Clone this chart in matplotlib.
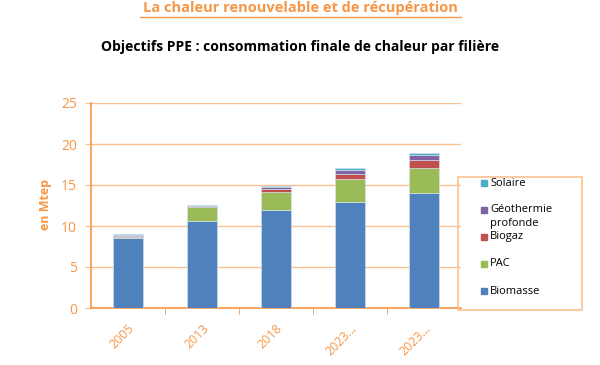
import matplotlib
matplotlib.use("Agg")
import matplotlib.pyplot as plt
from matplotlib.patches import Rectangle
import numpy as np

categories = ["2005", "2013", "2018", "2023…", "2023…"]
biomasse = [8.5, 10.6, 11.9, 12.9, 14.0]
pac = [0.2, 1.7, 2.3, 2.8, 3.1]
biogaz = [0.1, 0.1, 0.3, 0.7, 0.9]
geothermie = [0.1, 0.05, 0.2, 0.4, 0.6]
solaire = [0.1, 0.15, 0.2, 0.3, 0.35]

series = [("Biomasse", biomasse, "#4F81BD"),
          ("PAC", pac, "#9BBB59"),
          ("Biogaz", biogaz, "#C0504D"),
          ("Géothermie\nprofonde", geothermie, "#8064A2"),
          ("Solaire", solaire, "#4BACC6")]

orange = "#F79646"
light_orange = "#FAC090"

fig = plt.figure(figsize=(6.0, 3.65), dpi=100)
W, H = 600, 365
ax = fig.add_axes([91 / W, (H - 308) / H, 370 / W, 205 / H])

x = np.arange(len(categories))
bottom = np.zeros(len(categories))
for name, vals, col in series:
    ax.bar(x, vals, width=0.4, bottom=bottom, color=col,
           edgecolor="#DCE6F2", linewidth=0.4, zorder=3)
    bottom += np.array(vals)

ax.set_xlim(-0.5, len(categories) - 0.5)
ax.set_ylim(0, 25)
ax.set_yticks([0, 5, 10, 15, 20, 25])
ax.yaxis.grid(True, color=light_orange, linewidth=1.0, zorder=0)
ax.set_xticks(x)
ax.set_xticklabels(categories, rotation=45, ha="right", rotation_mode="anchor",
                   color=orange, fontsize=9, family="Open Sans")
ax.set_xticks(np.arange(0.5, len(categories) - 0.5, 1), minor=True)
ax.tick_params(axis="x", which="major", length=0, pad=10)
ax.tick_params(axis="x", which="minor", length=4, color=orange, direction="out")
ax.tick_params(axis="y", length=4, color=light_orange, labelcolor=orange,
               labelsize=10, pad=6)
for lab in ax.get_yticklabels():
    lab.set_family("Open Sans")
for s in ["top", "right"]:
    ax.spines[s].set_visible(False)
ax.spines["left"].set_color(orange)
ax.spines["bottom"].set_color(orange)
ax.spines["left"].set_linewidth(1.2)
ax.spines["bottom"].set_linewidth(1.2)

fig.text(45 / W, 1 - 205 / H, "en Mtep", rotation=90, color=orange,
         fontsize=9, fontweight="bold", ha="center", va="center", family="Open Sans")

# Titles
fig.text(300 / W, 1 - 8 / H, "La chaleur renouvelable et de récupération",
         color=orange, fontsize=10.5, fontweight="bold", ha="center", va="center",
         family="Open Sans")
fig.add_artist(plt.Line2D([140 / W, 461 / W], [1 - 17 / H, 1 - 17 / H],
                          color=orange, linewidth=1.0))
fig.text(300 / W, 1 - 47 / H,
         "Objectifs PPE : consommation finale de chaleur par filière",
         color="black", fontsize=10, fontweight="bold", ha="center", va="center",
         family="Open Sans")

# Legend box
fig.add_artist(Rectangle((458 / W, 1 - 310 / H), 124 / W, 133 / H,
                         transform=fig.transFigure, fill=False,
                         edgecolor=light_orange, linewidth=1.2))
legend_y = [291, 264, 237, 210, 183]
for (name, vals, col), yy in zip(series, legend_y):
    fig.add_artist(Rectangle((481 / W, 1 - (yy + 3) / H), 6 / W, 6 / H,
                             transform=fig.transFigure, color=col))
    fig.text(490 / W, 1 - yy / H, name.split("\n")[0], fontsize=8,
             ha="left", va="center", family="Open Sans")
    if "\n" in name:
        fig.text(490 / W, 1 - (yy + 13) / H, name.split("\n")[1], fontsize=8,
                 ha="left", va="center", family="Open Sans")

fig.savefig("out.png", dpi=100)
